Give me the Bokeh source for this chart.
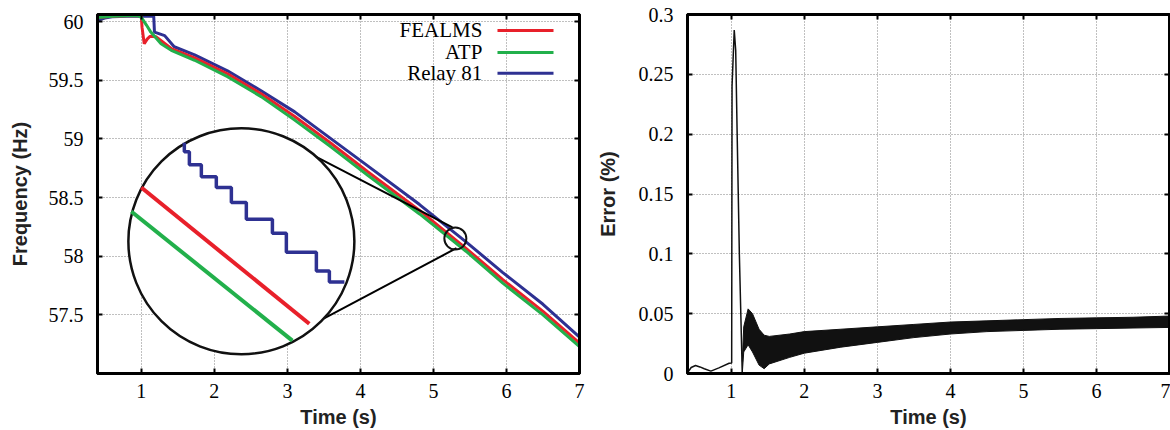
from bokeh.plotting import figure
from bokeh.models import Range1d, FixedTicker, LinearAxis
from bokeh.layouts import row
from bokeh.core.properties import value
from bokeh.embed import file_html
from bokeh.resources import INLINE

# ---------------- data ----------------
x_ticks = [1, 2, 3, 4, 5, 6, 7]
x_tick_labels = ["1", "2", "3", "4", "5", "6", "7"]
freq_ticks = [57.5, 58.0, 58.5, 59.0, 59.5, 60.0]
freq_tick_labels = ["57.5", "58", "58.5", "59", "59.5", "60"]
err_ticks = [0.0, 0.05, 0.1, 0.15, 0.2, 0.25, 0.3]
err_tick_labels = ["0", "0.05", "0.1", "0.15", "0.2", "0.25", "0.3"]

legend_labels = ["FEALMS", "ATP", "Relay 81"]

atp_t = [0.4, 0.6, 0.8, 0.95, 1.0, 1.07, 1.13, 1.27, 1.41, 1.73, 2.18, 2.64, 3.10,
         3.6, 4.1, 4.81, 5.45, 5.95, 6.5, 7.0]
atp_f = [60.035, 60.045, 60.05, 60.05, 60.036, 59.97, 59.91, 59.81, 59.755, 59.67, 59.53,
         59.36, 59.16, 58.93, 58.69, 58.36, 58.04, 57.77, 57.50, 57.23]

fealms_t = [0.4, 0.6, 0.8, 1.0, 1.01, 1.04, 1.08, 1.12, 1.2, 1.41, 1.73, 2.18, 2.64,
            3.10, 3.6, 4.1, 4.81, 5.45, 5.95, 6.5, 7.0]
fealms_f = [60.035, 60.045, 60.05, 60.05, 59.95, 59.81, 59.85, 59.875, 59.87, 59.77,
            59.69, 59.555, 59.385, 59.19, 58.96, 58.72, 58.39, 58.065, 57.80, 57.53, 57.26]

relay_t = [0.4, 0.5, 0.6, 0.8, 1.0, 1.17, 1.18, 1.32, 1.45, 1.73, 2.18, 2.64, 3.10,
           3.6, 4.1, 4.81, 5.45, 5.95, 6.5, 7.0]
relay_f = [60.01, 60.03, 60.04, 60.045, 60.045, 60.045, 59.91, 59.88, 59.785, 59.715,
           59.58, 59.41, 59.23, 59.00, 58.77, 58.44, 58.12, 57.86, 57.59, 57.31]

# zoomed inset (drawn in the plot's own coordinates)
inset_fealms_t = [1.0, 3.30]
inset_fealms_f = [58.585, 57.424]
inset_atp_t = [0.863, 3.068]
inset_atp_f = [58.381, 57.280]
inset_relay_t = [1.589, 1.658, 1.822, 2.027, 2.233, 2.438, 2.795, 2.986, 3.397, 3.575, 3.781]
inset_relay_f = [58.966, 58.890, 58.780, 58.678, 58.585, 58.458, 58.314, 58.195, 58.034,
                 57.873, 57.780]

# error (%) : thin trace and the oscillation band
err_line_t = [0.4, 0.45, 0.51, 0.57, 0.63, 0.72, 0.83, 0.97, 1.005, 1.01, 1.04, 1.06,
              1.08, 1.11, 1.15]
err_line_e = [0.0005, 0.005, 0.0067, 0.0055, 0.004, 0.002, 0.0047, 0.0086, 0.0088,
              0.24, 0.287, 0.27, 0.2, 0.1, 0.0]
band_t = [1.15, 1.17, 1.23, 1.29, 1.38, 1.45, 1.52, 1.8, 2.0, 2.5, 3.0, 3.5, 4.0, 4.5,
          5.0, 5.5, 6.0, 6.5, 7.0]
band_upper = [0.01, 0.039, 0.054, 0.050, 0.037, 0.032, 0.031, 0.033, 0.035, 0.037, 0.039,
              0.041, 0.043, 0.044, 0.045, 0.046, 0.0465, 0.047, 0.048]
band_lower = [0.0, 0.018, 0.024, 0.018, 0.007, 0.004, 0.008, 0.0135, 0.017, 0.022, 0.026,
              0.030, 0.033, 0.035, 0.036, 0.037, 0.0375, 0.038, 0.0385]

# ---------------- styling ----------------
RED = "#e8202a"
GREEN = "#22b04b"
BLUE = "#2e3192"
SERIF = "Liberation Serif"
SANS = "Liberation Sans"


def mirror_axis(ticks):
    return LinearAxis(ticker=FixedTicker(ticks=ticks), major_label_text_font_size="0px",
                      major_label_text_color=None, major_label_standoff=0,
                      major_tick_in=5, major_tick_out=0, major_tick_line_width=2,
                      minor_tick_line_color=None, axis_line_width=3)


def make_fig(xlabel, ylabel, yr, yticks, ylabels, width, right_border, ylabel_standoff):
    p = figure(width=width, height=430, output_backend="svg", toolbar_location=None,
               x_range=Range1d(0.4, 7.0), y_range=Range1d(*yr),
               min_border_left=97, min_border_right=right_border,
               min_border_top=14, min_border_bottom=57,
               frame_width=482, frame_height=359)
    p.outline_line_color = "black"
    p.outline_line_width = 3
    p.background_fill_color = "white"
    p.border_fill_color = "white"
    for ax in (p.xaxis[0], p.yaxis[0]):
        ax.axis_line_width = 3
        ax.major_tick_in = 5
        ax.major_tick_out = 0
        ax.major_tick_line_width = 2
        ax.minor_tick_line_color = None
        ax.major_label_text_font = SERIF
        ax.major_label_text_font_size = "20px"
        ax.major_label_text_color = "black"
        ax.axis_label_text_font = SANS
        ax.axis_label_text_font_style = "bold"
        ax.axis_label_text_font_size = "20px"
        ax.axis_label_text_color = "#222222"
    p.xaxis.ticker = FixedTicker(ticks=x_ticks)
    p.xaxis.major_label_overrides = dict(zip(x_ticks, x_tick_labels))
    p.yaxis.ticker = FixedTicker(ticks=yticks)
    p.yaxis.major_label_overrides = dict(zip(yticks, ylabels))
    p.xaxis.axis_label = xlabel
    p.yaxis.axis_label = ylabel
    p.xaxis.major_label_standoff = 10
    p.xaxis.axis_label_standoff = 5
    p.yaxis.major_label_standoff = 14
    p.yaxis.axis_label_standoff = ylabel_standoff
    p.add_layout(mirror_axis(x_ticks), "above")
    p.add_layout(mirror_axis(yticks), "right")
    for g in (p.xgrid[0], p.ygrid[0]):
        g.grid_line_color = "#808080"
        g.grid_line_dash = "1 2"
        g.grid_line_width = 1
    return p


# ---------------- left: frequency ----------------
p1 = make_fig("Time (s)", "Frequency (Hz)", (57.0, 60.06), freq_ticks, freq_tick_labels,
              590, 11, 15)

p1.line(relay_t, relay_f, color=BLUE, line_width=3)
p1.line(fealms_t, fealms_f, color=RED, line_width=3)
p1.line(atp_t, atp_f, color=GREEN, line_width=3)

# magnifier connectors, big lens and small lens
p1.segment(x0=[3.342, 3.438], y0=[58.864, 57.449], x1=[5.26, 5.315], y1=[58.246, 58.068],
           color="black", line_width=2)
p1.scatter(x=[2.37], y=[58.127], size=226, marker="circle", fill_color="white",
           line_color="#111111", line_width=2.5)
p1.scatter(x=[5.30], y=[58.15], size=22, marker="circle", fill_color=None,
           line_color="#111111", line_width=2)

p1.line(inset_atp_t, inset_atp_f, color=GREEN, line_width=4)
p1.line(inset_fealms_t, inset_fealms_f, color=RED, line_width=4)
p1.step(inset_relay_t, inset_relay_f, mode="before", color=BLUE, line_width=3.5)

# legend (text on the left, sample on the right)
leg_y = [59.924, 59.737, 59.559]
p1.text(x=[5.67] * 3, y=leg_y, text=legend_labels, text_align="right",
        text_baseline="middle", text_font=value(SERIF), text_font_size="21px",
        text_color="black")
p1.segment(x0=[5.877] * 3, x1=[6.644] * 3, y0=leg_y, y1=leg_y,
           color=[RED, GREEN, BLUE], line_width=3)

# ---------------- right: error ----------------
p2 = make_fig("Time (s)", "Error (%)", (0.0, 0.3), err_ticks, err_tick_labels, 580, 1, 17)
p2.varea(x=band_t, y1=band_lower, y2=band_upper, fill_color="#111111")
p2.line(band_t, band_upper, color="#111111", line_width=1)
p2.line(band_t, band_lower, color="#111111", line_width=1)
p2.line(err_line_t, err_line_e, color="#111111", line_width=1.5)

layout = row(p1, p2)
open("out.html", "w").write(file_html(layout, INLINE))
